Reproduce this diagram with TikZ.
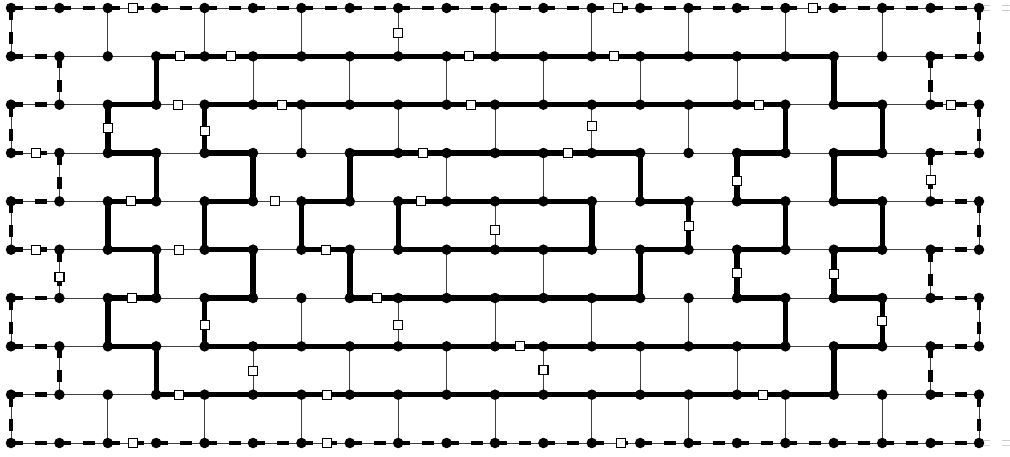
\documentclass[tikz,border=0pt]{standalone}
\pgfdeclarelayer{bg}
\pgfsetlayers{bg,main}
\newcommand\hedges[3]{\foreach \c in {#3}{\pgfmathtruncatemacro\cn{\c+1}\draw[#1] (n-#2-\c.center) -- (n-#2-\cn.center);}}
\newcommand\vedges[3]{\pgfmathtruncatemacro\rn{#2+1}\foreach \c in {#3}{\draw[#1] (n-#2-\c.center) -- (n-\rn-\c.center);}}
\newcommand\hsq[3]{\pgfmathtruncatemacro\cn{#2+1}\path (n-#1-#2.center) -- node[sq,pos=#3] (s-h-#1-#2) {} (n-#1-\cn.center);}
\newcommand\vsq[3]{\pgfmathtruncatemacro\rn{#1+1}\path (n-#1-#2.center) -- node[sq,pos=#3] (s-v-#1-#2) {} (n-\rn-#2.center);}
\begin{document}
\begin{tikzpicture}[x=1pt,y=-1pt,
  dot/.style={circle,fill=black,inner sep=0pt,minimum size=10.5pt},
  thinedge/.style={draw=black!75,line width=1pt},
  thickedge/.style={draw=black,line width=5.4pt},
  dashedge/.style={draw=black,line width=4.8pt,dash pattern=on 12pt off 12pt},
  sq/.style={rectangle,draw=black,fill=white,line width=1.2pt,minimum size=9pt,inner sep=0pt},
  stub/.style={draw=black!20,double=white,double distance=4pt,line width=0.8pt,dash pattern=on 11pt off 12pt}]
\useasboundingbox (0,0) rectangle (1010,456);
% grid nodes
\foreach \r in {0,...,9}{
  \foreach \c in {0,...,20}{
    \node[dot] (n-\r-\c) at ({11+48.4*\c},{8+48.3333*\r}) {};
  }
}
\coordinate (stubA) at (1012,8);
\coordinate (stubB) at (1012,443);
\begin{pgfonlayer}{bg}
% thin grid edges
\foreach \r in {0,...,9}{
  \foreach \c in {0,...,19}{
    \pgfmathtruncatemacro\cn{\c+1}
    \draw[thinedge] (n-\r-\c.center) -- (n-\r-\cn.center);
  }
}
\foreach \r in {0,...,8}{
  \pgfmathtruncatemacro\rn{\r+1}
  \foreach \c in {0,...,20}{
    \pgfmathtruncatemacro\myp{mod(\c+\r,2)}
    \ifnum\myp=0 \draw[thinedge] (n-\r-\c.center) -- (n-\rn-\c.center);\fi
  }
}
% faint stubs at the right
\draw[stub] (n-0-20.center) -- (stubA);
\draw[stub] (n-9-20.center) -- (stubB);
% thick horizontal edges
\hedges{thickedge}{1}{3,4,5,6,7,8,9,10,11,12,13,14,15,16}
\hedges{thickedge}{2}{2,4,5,6,7,8,9,10,11,12,13,14,15,17}
\hedges{thickedge}{3}{2,4,7,8,9,10,11,12,15,17}
\hedges{thickedge}{4}{2,4,6,8,9,10,11,13,15,17}
\hedges{thickedge}{5}{2,4,6,8,9,10,11,13,15,17}
\hedges{thickedge}{6}{2,4,7,8,9,10,11,12,15,17}
\hedges{thickedge}{7}{2,4,5,6,7,8,9,10,11,12,13,14,15,17}
\hedges{thickedge}{8}{3,4,5,6,7,8,9,10,11,12,13,14,15,16}
% thick vertical edges
\vedges{thickedge}{1}{3,17}
\vedges{thickedge}{2}{2,4,16,18}
\vedges{thickedge}{3}{3,5,7,13,15,17}
\vedges{thickedge}{4}{2,4,6,8,12,14,16,18}
\vedges{thickedge}{5}{3,5,7,13,15,17}
\vedges{thickedge}{6}{2,4,16,18}
\vedges{thickedge}{7}{3,17}
% dashed boundary edges
\hedges{dashedge}{0}{0,1,2,3,4,5,6,7,8,9,10,11,12,13,14,15,16,17,18,19}
\hedges{dashedge}{9}{0,1,2,3,4,5,6,7,8,9,10,11,12,13,14,15,16,17,18,19}
\foreach \r in {1,...,8}{\hedges{dashedge}{\r}{0,19}}
\vedges{dashedge}{0}{0,20}
\vedges{dashedge}{2}{0,20}
\vedges{dashedge}{4}{0,20}
\vedges{dashedge}{6}{0,20}
\vedges{dashedge}{8}{0,20}
\vedges{dashedge}{1}{1,19}
\vedges{dashedge}{3}{1,19}
\vedges{dashedge}{5}{1,19}
\vedges{dashedge}{7}{1,19}
\end{pgfonlayer}
% squares
\hsq{0}{2}{0.52}
\hsq{0}{12}{0.54}
\hsq{0}{16}{0.57}
\vsq{0}{8}{0.52}
\hsq{1}{3}{0.49}
\hsq{1}{4}{0.55}
\hsq{1}{9}{0.46}
\hsq{1}{12}{0.46}
\hsq{2}{3}{0.45}
\hsq{2}{5}{0.6}
\hsq{2}{9}{0.5}
\hsq{2}{15}{0.45}
\hsq{2}{19}{0.42}
\vsq{2}{2}{0.48}
\vsq{2}{4}{0.54}
\vsq{2}{12}{0.44}
\hsq{3}{0}{0.52}
\hsq{3}{8}{0.51}
\hsq{3}{11}{0.51}
\vsq{3}{15}{0.58}
\vsq{3}{19}{0.56}
\hsq{4}{2}{0.48}
\hsq{4}{5}{0.45}
\hsq{4}{8}{0.47}
\vsq{4}{10}{0.59}
\vsq{4}{14}{0.51}
\hsq{5}{0}{0.52}
\hsq{5}{3}{0.47}
\hsq{5}{6}{0.51}
\vsq{5}{1}{0.56}
\vsq{5}{15}{0.48}
\vsq{5}{17}{0.5}
\hsq{6}{2}{0.5}
\hsq{6}{7}{0.56}
\vsq{6}{4}{0.56}
\vsq{6}{8}{0.56}
\vsq{6}{18}{0.48}
\hsq{7}{10}{0.52}
\vsq{7}{5}{0.51}
\vsq{7}{11}{0.49}
\hsq{8}{3}{0.47}
\hsq{8}{6}{0.53}
\hsq{8}{15}{0.54}
\hsq{9}{2}{0.52}
\hsq{9}{6}{0.53}
\hsq{9}{12}{0.6}
\end{tikzpicture}
\end{document}
